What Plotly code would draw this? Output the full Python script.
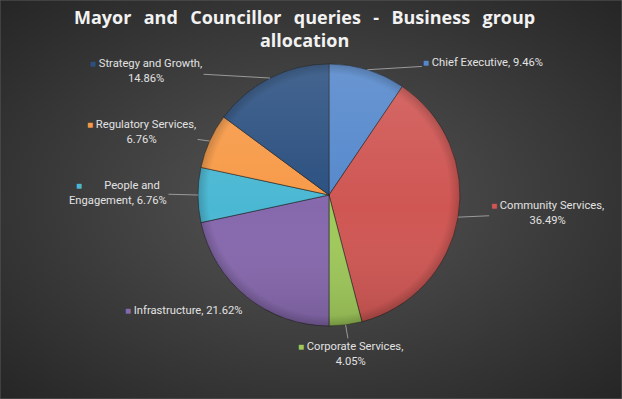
import base64
import math
import plotly.graph_objects as go

# ---- data ----
categories = ["Chief Executive", "Community Services", "Corporate Services",
              "Infrastructure", "People and Engagement", "Regulatory Services",
              "Strategy and Growth"]
percentages = [9.46, 36.49, 4.05, 21.62, 6.76, 6.76, 14.86]
label_texts = ["Chief Executive, 9.46%",
               "Community Services,<br>36.49%",
               "Corporate Services,<br>4.05%",
               "Infrastructure, 21.62%",
               "People and<br>Engagement, 6.76%",
               "Regulatory Services,<br>6.76%",
               "Strategy and Growth,<br>14.86%"]
title_words = ["Mayor", "and", "Councillor", "queries", "-", "Business", "group"]
title_line2 = "allocation"

# ---- style ----
colors = ["#5588cc", "#cf5653", "#9fc95a", "#8668ad", "#4bb8d3", "#f79a48", "#2b5080"]
# label box-centre offsets (px) from the slice's outer mid point
label_dx = [116, 89, 5, -63, -80, -68, -124]
label_dy = [-7, -4, 29, 14, -2, -9, -7]
marker_pad = [0, 0, 0, 0, 7, 0, 0]
leader = [True, True, True, False, True, True, True]

W, H = 622, 399
CX, CY, R = 329, 195, 131  # pie centre / radius in px

dom_x = [(CX - R) / W, (CX + R) / W]
dom_y = [(H - CY - R) / H, (H - CY + R) / H]

bg_svg = f'''<svg xmlns="http://www.w3.org/2000/svg" width="{W}" height="{H}">
<defs><radialGradient id="g" cx="50%" cy="50%" r="70%">
<stop offset="0%" stop-color="#565656"/><stop offset="100%" stop-color="#262626"/>
</radialGradient></defs>
<rect width="{W}" height="{H}" fill="url(#g)"/></svg>'''

shade_svg = f'''<svg xmlns="http://www.w3.org/2000/svg" width="{2*R}" height="{2*R}">
<defs><linearGradient id="s" x1="0" y1="0" x2="0" y2="1">
<stop offset="0%" stop-color="#ffffff" stop-opacity="0.12"/>
<stop offset="55%" stop-color="#ffffff" stop-opacity="0"/>
<stop offset="100%" stop-color="#000000" stop-opacity="0.12"/>
</linearGradient>
<radialGradient id="rim" cx="50%" cy="50%" r="50%">
<stop offset="92%" stop-color="#000000" stop-opacity="0"/>
<stop offset="100%" stop-color="#000000" stop-opacity="0.18"/>
</radialGradient></defs>
<circle cx="{R}" cy="{R}" r="{R}" fill="url(#s)"/>
<circle cx="{R}" cy="{R}" r="{R}" fill="url(#rim)"/></svg>'''


def uri(svg):
    return "data:image/svg+xml;base64," + base64.b64encode(svg.encode()).decode()


fig = go.Figure(go.Pie(
    labels=categories,
    values=percentages,
    sort=False,
    direction="clockwise",
    rotation=0,
    textinfo="none",
    hoverinfo="label+percent",
    marker=dict(colors=colors, line=dict(color="rgba(30,30,30,0.55)", width=1)),
    domain=dict(x=dom_x, y=dom_y),
    showlegend=False,
))

# leader-line labels at each slice's outer mid point
total = sum(percentages)
cum = 0.0
annotations = []
for i, v in enumerate(percentages):
    mid = (cum + v / 2) / total * 2 * math.pi
    cum += v
    px = CX + R * math.sin(mid)
    py = CY - R * math.cos(mid)
    marker = f'<span style="color:{colors[i]};font-size:10px">■</span> ' + "\u00a0" * marker_pad[i]
    annotations.append(dict(
        x=px / W, y=1 - py / H, xref="paper", yref="paper",
        ax=label_dx[i], ay=label_dy[i],
        text=marker + label_texts[i],
        showarrow=True, arrowhead=0, arrowwidth=1,
        arrowcolor="#9a9a9a" if leader[i] else "rgba(0,0,0,0)",
        standoff=0, startstandoff=0,
        align="center",
        font=dict(family="Roboto", size=11.2, color="#e2e2e2"),
    ))

sep = "\u00a0\u00a0\u2009"
annotations.append(dict(
    x=304 / W, y=1 - 3 / H, xref="paper", yref="paper",
    xanchor="center", yanchor="top", showarrow=False, align="center",
    text=sep.join(title_words) + "<br>" + title_line2,
    font=dict(family="Open Sans", size=18, color="#f2f2f2", weight="bold"),
))

fig.update_layout(
    width=W, height=H,
    margin=dict(l=0, r=0, t=0, b=0),
    paper_bgcolor="#333333",
    plot_bgcolor="#333333",
    annotations=annotations,
    images=[
        dict(source=uri(bg_svg), xref="paper", yref="paper", x=0, y=1,
             sizex=1, sizey=1, sizing="stretch", layer="below", xanchor="left", yanchor="top"),
        dict(source=uri(shade_svg), xref="paper", yref="paper", x=dom_x[0], y=dom_y[1],
             sizex=dom_x[1] - dom_x[0], sizey=dom_y[1] - dom_y[0], sizing="stretch",
             layer="above", xanchor="left", yanchor="top"),
    ],
    shapes=[dict(type="rect", xref="paper", yref="paper", x0=0, y0=0, x1=1, y1=1,
                 line=dict(color="#5a5a5a", width=1))],
)

fig.write_html("out.html", config={"displayModeBar": False},
               post_script="document.body.style.margin='0';document.body.style.overflow='hidden';")
